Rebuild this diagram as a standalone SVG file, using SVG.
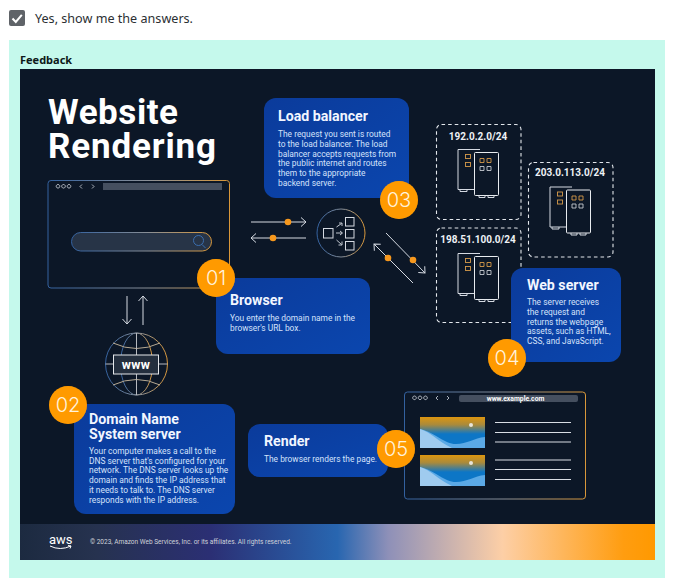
<svg xmlns="http://www.w3.org/2000/svg" width="675" height="578" viewBox="0 0 675 578">
<style>
text{font-family:"Roboto","Noto Sans","Liberation Sans",sans-serif;fill:#fff}
.ui{font-family:"Noto Sans","Open Sans",sans-serif}
.h{font-size:14.200px;font-weight:700;fill:#f2f6ff}
.b{font-size:8.400px;fill:#d5e2fb}
.num{font-size:20px;font-weight:300;fill:#fff2dc;text-anchor:middle;font-family:"Inter","Noto Sans",sans-serif}
.box{fill:url(#boxg)}
.badge{fill:#ff9a05;filter:url(#glow)}
.dash{fill:none;stroke:#e3e7ec;stroke-width:1.1;stroke-dasharray:3.6 3}
.ip{font-size:10px;font-weight:700;fill:#eef1f5;text-anchor:middle}
.s{fill:#0c1727;stroke:#e8ebef;stroke-width:1}
.a{fill:none;stroke:#d5dae2;stroke-width:1;marker-end:url(#open)}
.l{fill:none;stroke:#d5dae2;stroke-width:1}
.dot{fill:#f7981d}
.win{fill:#0c1727;stroke:url(#wing);stroke-width:1}
.rl{stroke:#d8dde4;stroke-width:1}
</style>
<defs>
<linearGradient id="boxg" x1="0" y1="0" x2="1" y2="1"><stop offset="0" stop-color="#0b3b9b"/><stop offset="1" stop-color="#0b46ae"/></linearGradient>
<linearGradient id="wing" x1="0" y1="0" x2="1" y2="0"><stop offset="0" stop-color="#33619f"/><stop offset=".55" stop-color="#8a8f96"/><stop offset="1" stop-color="#d8973a"/></linearGradient>
<linearGradient id="foot" x1="0" y1="0" x2="1" y2="0"><stop offset="0" stop-color="#1c2a40"/><stop offset=".12" stop-color="#26324f"/><stop offset=".3" stop-color="#2b2f74"/><stop offset=".5" stop-color="#2866b0"/><stop offset=".58" stop-color="#8e90b8"/><stop offset=".76" stop-color="#fdcfa6"/><stop offset=".95" stop-color="#ff9d10"/><stop offset="1" stop-color="#ff9900"/></linearGradient>
<linearGradient id="sky" x1="0" y1="0" x2="0" y2="1"><stop offset="0" stop-color="#dd960f"/><stop offset=".25" stop-color="#a98a3c"/><stop offset=".55" stop-color="#0d76c6"/><stop offset="1" stop-color="#0d76c6"/></linearGradient>
<filter id="glow" x="-30%" y="-30%" width="160%" height="160%"><feGaussianBlur in="SourceAlpha" stdDeviation="2"/><feFlood flood-color="#ff9a05" flood-opacity=".35"/><feComposite operator="in" in2="SourceGraphic"/><feMerge><feMergeNode/><feMergeNode in="SourceGraphic"/></feMerge></filter>
<marker id="open" markerUnits="userSpaceOnUse" markerWidth="12" markerHeight="12" refX="10" refY="6" orient="auto"><path d="M5 1.500L10 6L5 10.500" fill="none" stroke="#d5dae2" stroke-width="1"/></marker>
<g id="server">
<path class="l" d="M22 0H0V40H22"/>
<path class="l" d="M2 40v2h7v-2"/>
<rect x="7.500" y="5" width="5" height="4" fill="none" stroke="#d69a4a" stroke-width=".9"/>
<rect x="7.500" y="13" width="5" height="4" fill="none" stroke="#d69a4a" stroke-width=".9"/>
<rect class="s" x="16.500" y="3" width="24" height="43" rx="1"/>
<path class="l" d="M21 46v2h6v-2M30 46v2h6v-2"/>
<path fill="none" stroke="#d69a4a" stroke-width=".9" d="M22 9h4v4h-4zM29 9h4v4h-4z"/>
<path fill="none" stroke="#c5c9cf" stroke-width=".9" d="M22 17h4v4h-4zM29 17h4v4h-4z"/>
</g>
<g id="pic">
<rect width="65" height="31" fill="url(#sky)"/>
<path d="M0 12C16 16 24 27 36 27C47 27 54 21 65 20V31H0Z" fill="#5ba9e6"/>
<path d="M0 12C11 15 17 24 32 31H0Z" fill="#9fcbef"/>
<circle cx="51" cy="8" r="2" fill="#e8e4d8"/>
</g>
</defs>

<rect width="675" height="578" fill="#fff"/>
<g id="check">
<rect x="9" y="10" width="16" height="16" rx="2" fill="#5f6368"/>
<path d="M12.500 18.500L15.800 22L21.800 14.800" fill="none" stroke="#fff" stroke-width="2"/>
<text class="ui" x="35" y="23" font-size="12.600" style="fill:#2b2f33">Yes, show me the answers.</text>
</g>
<rect x="9" y="40" width="656" height="538" fill="#c5f9ec"/>
<text class="ui" x="20" y="64" font-size="11" font-weight="700" style="fill:#0e1a1a">Feedback</text>
<rect x="20" y="69" width="635" height="491" fill="#0c1727"/>
<rect x="20" y="524" width="635" height="36" fill="url(#foot)"/>

<text x="48" y="124" font-size="35" font-weight="700" textLength="130">Website</text>
<text x="48" y="158" font-size="35" font-weight="700" textLength="168">Rendering</text>

<g id="connectors">
<path class="a" d="M127 296V324"/>
<path class="a" d="M143 325V296"/>
<path class="a" d="M251 222H306"/>
<path class="a" d="M306 238H251"/>
<circle class="dot" cx="288" cy="222" r="3.300"/>
<circle class="dot" cx="273" cy="238" r="3.300"/>
<path class="a" d="M386 233L425 273"/>
<path class="a" d="M413 283L374 244"/>
<circle class="dot" cx="413" cy="260" r="3.300"/>
<circle class="dot" cx="388" cy="258" r="3.300"/>
</g>

<g id="browser-window">
<rect class="win" x="48" y="180.500" width="181.500" height="107.500" rx="3"/>
<path d="M48 192.500H229.500" stroke="url(#wing)" stroke-width="1" fill="none"/>
<path fill="none" stroke="#d5dae2" stroke-width=".8" d="M58 184.500a1.800 1.800 0 1 0 .01 0M63.500 184.500a1.800 1.800 0 1 0 .01 0M69 184.500a1.800 1.800 0 1 0 .01 0M82 184.500l-2 2 2 2M92 184.500l2 2-2 2"/>
<rect x="103" y="183" width="119" height="7" fill="#454f5f"/>
<rect x="71.500" y="232.500" width="140" height="18.500" rx="9.200" fill="#273447" stroke="url(#wing)"/>
<circle cx="198.500" cy="240.500" r="5" fill="none" stroke="#3b6fb0"/><path d="M202 244.500l3.500 3.500" stroke="#3b6fb0"/>
</g>
<g id="dns-globe">
<circle cx="136.500" cy="364" r="31" fill="none" stroke="url(#wing)"/>
<ellipse cx="136.500" cy="364" rx="16" ry="31" fill="none" stroke="url(#wing)"/>
<path d="M105.500 364H167.500" stroke="#b6b9bf" fill="none"/>
<path d="M113 343Q136.500 354 160 343M113 385Q136.500 374 160 385" fill="none" stroke="#b6a993"/>
<path d="M136.500 333V395" stroke="#b6b9bf"/>
<rect x="113.500" y="355" width="45" height="19" fill="#242f3e" stroke="#e4e7ea"/>
<text x="136" y="369" font-size="12.500" font-weight="700" text-anchor="middle" letter-spacing=".4">www</text>
</g>
<g id="load-balancer-icon">
<circle cx="341" cy="233" r="24" fill="none" stroke="url(#wing)"/>
<rect x="323.500" y="228.500" width="9.500" height="9.500" fill="none" stroke="#d5dae2"/>
<rect x="345.500" y="217.500" width="8.500" height="8.500" fill="none" stroke="#d5dae2"/>
<rect x="345.500" y="229.500" width="8.500" height="8.500" fill="none" stroke="#d5dae2"/>
<rect x="345.500" y="241.500" width="8.500" height="8.500" fill="none" stroke="#d5dae2"/>
<path d="M336 233H342M340 231l2.500 2-2.500 2M336.500 227l5-3.500M339 223h3v3M336.500 240l5 4.500M342 241.500v3.500h-3.500" fill="none" stroke="#d5dae2" stroke-width=".9"/>
</g>

<g id="subnet-192">
<rect class="dash" x="436.500" y="124.500" width="84.500" height="95" rx="5"/>
<text class="ip" x="478" y="140">192.0.2.0/24</text>
<use href="#server" x="458" y="149.500"/>
</g>
<g id="subnet-203">
<rect class="dash" x="528.500" y="162.500" width="84.500" height="94.500" rx="5"/>
<text class="ip" x="570" y="176">203.0.113.0/24</text>
<use href="#server" x="550" y="187"/>
</g>
<g id="subnet-198">
<rect class="dash" x="436.500" y="228" width="84.500" height="94.500" rx="5"/>
<text class="ip" x="478" y="243">198.51.100.0/24</text>
<use href="#server" x="458" y="253.500"/>
</g>

<g id="load-balancer">
<rect class="box" x="264" y="98" width="145" height="100" rx="12"/>
<text class="h" x="278" y="121">Load balancer</text>
<text class="b" x="278" y="137">The request you sent is routed</text>
<text class="b" x="278" y="147">to the load balancer. The load</text>
<text class="b" x="278" y="157">balancer accepts requests from</text>
<text class="b" x="278" y="166">the public internet and routes</text>
<text class="b" x="278" y="176">them to the appropriate</text>
<text class="b" x="278" y="186">backend server.</text>
<circle class="badge" cx="399" cy="200" r="19"/>
<text class="num" x="399" y="207">03</text>
</g>
<g id="browser">
<rect class="box" x="216" y="278" width="154" height="76" rx="12"/>
<text class="h" x="230" y="305">Browser</text>
<text class="b" x="230" y="321">You enter the domain name in the</text>
<text class="b" x="230" y="331">browser's URL box.</text>
<circle class="badge" cx="216" cy="278" r="19"/>
<text class="num" x="216" y="285">01</text>
</g>
<g id="dns-server">
<rect class="box" x="74" y="404" width="161" height="110" rx="12"/>
<text class="h" x="89" y="424">Domain Name</text>
<text class="h" x="89" y="439">System server</text>
<text class="b" x="89" y="454">Your computer makes a call to the</text>
<text class="b" x="89" y="464">DNS server that's configured for your</text>
<text class="b" x="89" y="473">network. The DNS server looks up the</text>
<text class="b" x="89" y="483">domain and finds the IP address that</text>
<text class="b" x="89" y="493">it needs to talk to. The DNS server</text>
<text class="b" x="89" y="503">responds with the IP address.</text>
<circle class="badge" cx="68" cy="405" r="19"/>
<text class="num" x="68" y="412">02</text>
</g>
<g id="web-server">
<rect class="box" x="511" y="268" width="110" height="94" rx="12"/>
<text class="h" x="527" y="290">Web server</text>
<text class="b" x="527" y="305">The server receives</text>
<text class="b" x="527" y="315">the request and</text>
<text class="b" x="527" y="325">returns the webpage</text>
<text class="b" x="527" y="334">assets, such as HTML,</text>
<text class="b" x="527" y="344">CSS, and JavaScript.</text>
<circle class="badge" cx="507" cy="358" r="19"/>
<text class="num" x="507" y="365">04</text>
</g>
<g id="render">
<rect class="box" x="248" y="424" width="140" height="53" rx="12"/>
<text class="h" x="264" y="446">Render</text>
<text class="b" x="264" y="462">The browser renders the page.</text>
</g>
<g id="render-window">
<rect class="win" x="404.500" y="392" width="181" height="107" rx="3"/>
<path d="M404.500 404.500H585.500" stroke="url(#wing)" fill="none"/>
<path fill="none" stroke="#d5dae2" stroke-width=".8" d="M414.500 396a1.800 1.800 0 1 0 .01 0M420 396a1.800 1.800 0 1 0 .01 0M425.500 396a1.800 1.800 0 1 0 .01 0M438 396l-2 2 2 2M447 396l2 2-2 2"/>
<rect x="459" y="395" width="119" height="7" rx="2" fill="#454f5f"/>
<text x="515.500" y="400.500" font-size="6.800" font-weight="700" text-anchor="middle">www.example.com</text>
<use href="#pic" x="420" y="417"/>
<use href="#pic" x="420" y="455"/>
<path class="rl" d="M495 422.500H571M495 432.500H571M495 442H571M495 460H571M495 469.500H571M495 479.500H571"/>
</g>
<circle class="badge" cx="396" cy="449" r="19"/>
<text class="num" x="396" y="456">05</text>

<g id="footer">
<text x="49" y="544" font-size="13" font-weight="400">aws</text>
<path d="M50 546Q60 551 71 546M68 545.500l3 .5-1 2.500" fill="none" stroke="#fff" stroke-width="1"/>
<text x="90" y="544" font-size="6.500" style="fill:#cfd3da">© 2023, Amazon Web Services, Inc. or its affiliates. All rights reserved.</text>
</g>
</svg>
